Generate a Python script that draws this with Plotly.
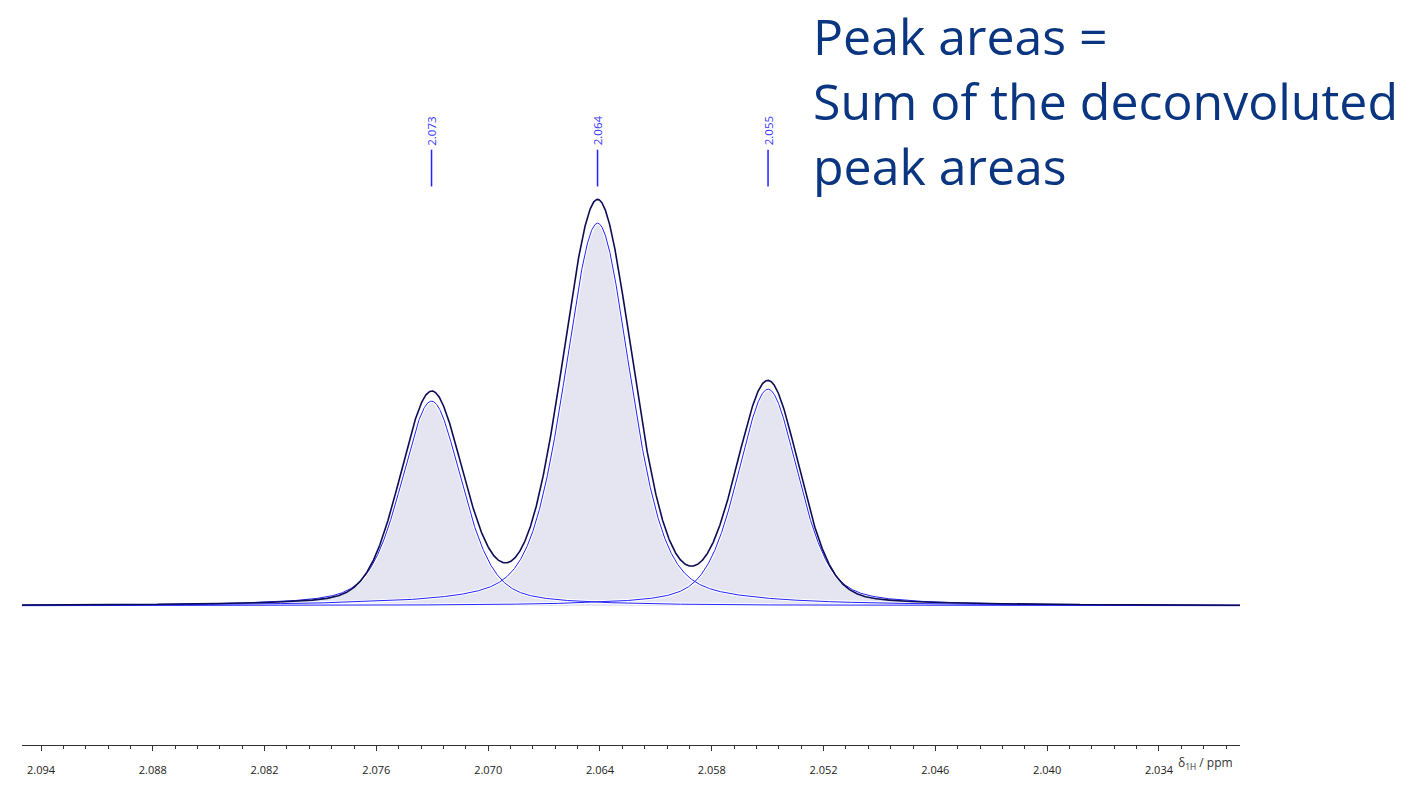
import numpy as np
import plotly.graph_objects as go

# ---- data ----
peak_ppm = [2.07304, 2.06413, 2.05498]          # peak centres (ppm)
peak_labels = ["2.073", "2.064", "2.055"]
comp_height = [206, 385, 218]                   # deconvoluted component heights (a.u.)
comp_hwhm = [0.00193, 0.00209, 0.00193]         # half width at half max (ppm)
comp_eta = [0.4, 0.4, 0.4]                      # Lorentzian fraction
spec_height = [211, 405, 222]                   # measured spectrum peak heights (a.u.)
spec_hwhm = [0.00199, 0.00220, 0.00199]
spec_eta = [0.2, 0.2, 0.2]
tick_vals = [2.094, 2.088, 2.082, 2.076, 2.070, 2.064, 2.058, 2.052, 2.046, 2.040, 2.034]
tick_text = ["2.094", "2.088", "2.082", "2.076", "2.070", "2.064", "2.058", "2.052", "2.046", "2.040", "2.034"]
x_range = [2.09502, 2.02965]


def pvoigt(x, c, h, w, eta):
    u = ((x - c) / w) ** 2
    return h * (eta / (1 + u) + (1 - eta) * np.exp(-np.log(2) * u))


x = np.linspace(x_range[0], x_range[1], 4000)
components = [pvoigt(x, c, h, w, e) for c, h, w, e in zip(peak_ppm, comp_height, comp_hwhm, comp_eta)]
spectrum = sum(pvoigt(x, c, h, w, e) for c, h, w, e in zip(peak_ppm, spec_height, spec_hwhm, spec_eta))

fig = go.Figure()
FILL = "#e4e5f0"
BLUE = "#2222ff"
for comp in components:
    fig.add_trace(go.Scatter(x=x, y=comp, mode="lines", fill="tozeroy", fillcolor=FILL,
                             line=dict(color="rgba(0,0,0,0)", width=0), hoverinfo="skip"))
for comp in components:
    fig.add_trace(go.Scatter(x=x, y=comp, mode="lines", line=dict(color="white", width=3.2),
                             hoverinfo="skip"))
for comp in components:
    fig.add_trace(go.Scatter(x=x, y=comp, mode="lines", line=dict(color=BLUE, width=1),
                             hoverinfo="skip"))
fig.add_trace(go.Scatter(x=x, y=spectrum, mode="lines", line=dict(color="#0c0c55", width=1.6),
                         hoverinfo="skip"))

# plot area geometry (page body margin removed below)
W, H = 1422, 789
L, R, T, B = 22, 182, 100, 40
PW, PH = W - L - R, H - T - B

# peak picking labels
for p, lab in zip(peak_ppm, peak_labels):
    fig.add_shape(type="line", xref="x", yref="y", x0=p, x1=p, y0=422, y1=459,
                  line=dict(color=BLUE, width=1.5))
    fig.add_annotation(x=p, y=461, xref="x", yref="y", text=lab, textangle=-90,
                       showarrow=False, yanchor="bottom", xanchor="center",
                       font=dict(family="Open Sans", size=11.5, color="#3535ff"))

# axis title
fig.add_annotation(xref="paper", yref="paper", x=(1176 - L) / PW, y=(H - B - 767) / PH,
                   text="δ<sub>1H</sub> / ppm", showarrow=False, xanchor="left", yanchor="middle",
                   font=dict(family="Open Sans", size=12, color="#333333"))

# big statement text
fig.add_annotation(xref="paper", yref="paper", x=(812 - L) / PW, y=(H - B - 0) / PH,
                   text="Peak areas =<br>Sum of the deconvoluted<br>peak areas",
                   showarrow=False, xanchor="left", yanchor="top", align="left", borderpad=0,
                   font=dict(family="Open Sans", size=50, color="#0a3580"))

fig.update_layout(
    width=W, height=H,
    margin=dict(l=L, r=R, t=T, b=B),
    paper_bgcolor="white", plot_bgcolor="white",
    showlegend=False,
    xaxis=dict(range=x_range, tickvals=tick_vals, ticktext=tick_text,
               showline=True, linecolor="#333333", linewidth=1,
               ticks="outside", ticklen=5, tickcolor="#333333", tickwidth=1,
               minor=dict(dtick=0.0012, tick0=2.094, ticks="outside", ticklen=3,
                          tickcolor="#333333", showgrid=False),
               showgrid=False, zeroline=False, ticklabelstandoff=10,
               tickfont=dict(family="Open Sans", size=11, color="#222222")),
    yaxis=dict(range=[-140, 509], visible=False, showgrid=False, zeroline=False),
)

fig.write_html("out.html", config={"displayModeBar": False},
               post_script="document.body.style.margin='0';document.body.style.overflow='hidden';")
